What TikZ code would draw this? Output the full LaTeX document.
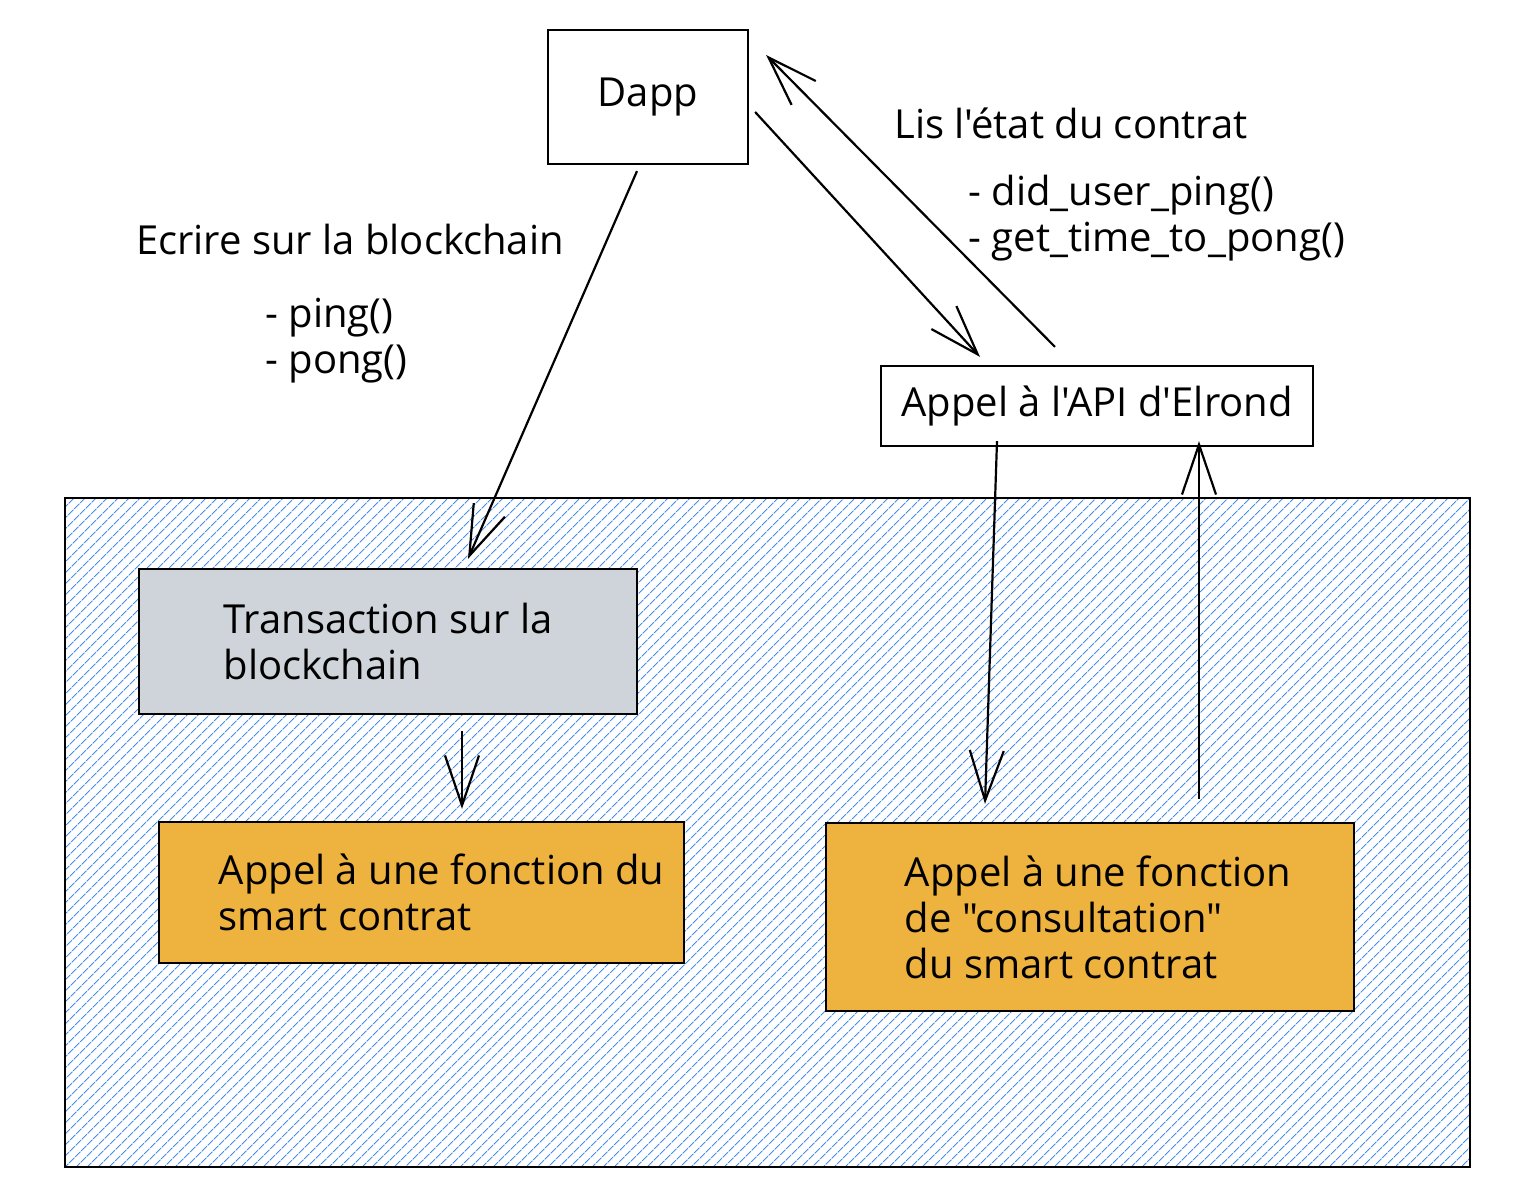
\documentclass[tikz,border=0pt]{standalone}
\usepackage{fontspec}
\setmainfont{Open Sans}[Ligatures=TeXOff]
\usepackage{tikz}
\usetikzlibrary{arrows.meta,patterns.meta}
\definecolor{ZHatch}{HTML}{4A8FE7}
\definecolor{ZGray}{HTML}{CED4DA}
\definecolor{ZOrange}{HTML}{EEB23E}

\begin{document}
\begin{tikzpicture}[
  x=0.5pt,y=-0.5pt,
  every node/.style={font=\fontsize{20}{23}\selectfont},
  box/.style={draw=black,line width=1.1pt,align=left,inner sep=0pt},
  lbl/.style={align=left,inner sep=0pt},
  arr/.style={-{Straight Barb[length=25pt,width=17pt]},line width=1.1pt}
]
\useasboundingbox (0,0) rectangle (1532,1202);
% zone blockchain
\node[draw=black,line width=1.1pt,pattern={Lines[angle=45,distance=4pt,line width=0.6pt]},
  pattern color=ZHatch,minimum width=702.5pt,minimum height=334.5pt,inner sep=0pt]
  (zone) at (767.5,832.5) {};
\node[box,fill=white,minimum width=100pt,minimum height=67pt] (dapp) at (648,97) {Dapp};
\node[box,fill=white,minimum width=216pt,minimum height=40pt] (api) at (1097,406) {Appel à l'API d'Elrond};
\node[box,fill=ZGray,minimum width=249pt,minimum height=72.5pt] (tx) at (388,641.5)
  {Transaction sur la\\blockchain};
\node[box,fill=ZOrange,minimum width=262.5pt,minimum height=70.5pt] (call) at (421.5,892.5)
  {\hspace*{20pt}Appel à une fonction du\\\hspace*{20pt}smart contrat};
\node[box,fill=ZOrange,minimum width=264pt,minimum height=94pt] (view) at (1090,917)
  {\hspace*{8pt}Appel à une fonction\\\hspace*{8pt}de "consultation"\\\hspace*{8pt}du smart contrat};
% textes
\node[lbl] (write) at (350,240) {Ecrire sur la blockchain};
\node[lbl,anchor=west] (writefns) at (265,341) {- ping()\\- pong()};
\node[lbl] (read) at (1071,123) {Lis l'état du contrat};
\node[lbl,anchor=west] (readfns) at (968,218) {- did\_user\_ping()\\- get\_time\_to\_pong()};
% fleches
\draw[arr] ([shift={(-11,6)}]dapp.south) -- ([shift={(80,-9)}]tx.north);
\draw[arr] ([shift={(6,15)}]dapp.east) -- ([shift={(-117,-8)}]api.north);
\draw[arr] ([shift={(-42,-18)}]api.north) -- ([shift={(17,-42)}]dapp.east);
\draw[arr] ([shift={(-100,-6)}]api.south) -- ([shift={(-105,-18)}]view.north);
\draw[arr] ([shift={(109,-23)}]view.north) -- ([shift={(102,-6)}]api.south);
\draw[arr] ([shift={(74,16)}]tx.south) -- ([shift={(40.5,-12)}]call.north);
\end{tikzpicture}
\end{document}
